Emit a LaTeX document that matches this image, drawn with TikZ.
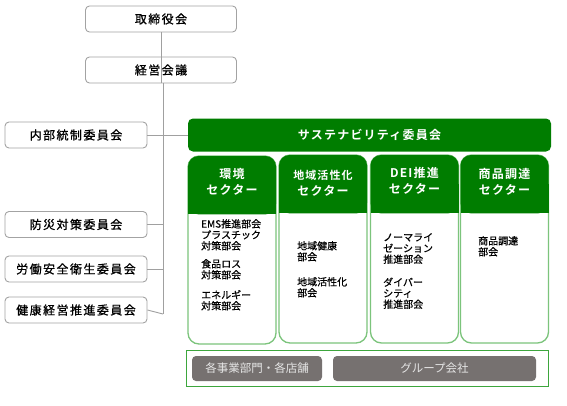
\documentclass[tikz,border=0pt]{standalone}
\usepackage{fontspec}
\setmainfont{Noto Sans CJK JP}[FakeBold=0.6]
\newfontfamily\jpbold{Noto Sans CJK JP Bold}
\newfontfamily\jpwide{Noto Sans CJK JP}[FakeBold=0.8, LetterSpace=12]
\newfontfamily\jpboldwide{Noto Sans CJK JP Bold}[LetterSpace=10]
\newfontfamily\jpbtn{Noto Sans CJK JP}
\definecolor{hdrgreen}{HTML}{007D00}
\definecolor{litegreen}{HTML}{7CC47C}
\definecolor{boxgreen}{HTML}{3DA63D}
\definecolor{btngray}{HTML}{767170}
\definecolor{btntext}{HTML}{E6E6E6}
\definecolor{edgegray}{HTML}{A3A3A3}
\definecolor{linegray}{HTML}{A0A0A0}
\begin{document}
\begin{tikzpicture}[x=1pt,y=-1pt,
  orgbox/.style={draw=edgegray, line width=0.9pt, rounded corners=4pt, fill=white,
    minimum width=151pt, minimum height=26pt, inner sep=0pt,
    font=\fontsize{12}{14}\selectfont\jpwide},
  sidebox/.style={orgbox, minimum width=142pt},
  conn/.style={draw=linegray, line width=0.9pt},
  sector/.style={draw=litegreen, line width=1.3pt, rounded corners=11pt, minimum width=88pt,
    minimum height=188pt, inner sep=0pt},
  hdrtext/.style={text=white, align=center, font=\fontsize{12}{15.5}\selectfont\jpboldwide},
  bodytext/.style={anchor=north west, align=left, inner sep=0pt,
    font=\fontsize{10}{11}\selectfont},
  btn/.style={fill=btngray, rounded corners=4pt, minimum height=25pt, inner sep=0pt,
    text=btntext, font=\fontsize{11.5}{13}\selectfont\jpbtn}
]
\useasboundingbox (0,0) rectangle (567,405);
\fill[white] (0,0) rectangle (567,405);

% main chain
\node[orgbox] (tori) at (161,19) {取締役会};
\node[orgbox] (keiei) at (161,70) {経営会議};
\coordinate (spineend) at (163,314);

% side committees
\node[sidebox] (naibu) at (76,135) {内部統制委員会};
\node[sidebox] (bousai) at (76,224.5) {防災対策委員会};
\node[sidebox] (roudou) at (76,269) {労働安全衛生委員会};
\node[sidebox] (kenkou) at (76,310) {健康経営推進委員会};

% sustainability committee
\node[fill=hdrgreen, rounded corners=5pt, minimum width=363pt, minimum height=33pt, inner sep=0pt,
  text=white, font=\fontsize{12}{14}\selectfont\jpboldwide] (sust) at (369.5,135) {サステナビリティ委員会};

% connectors
\draw[conn] (tori.south) -- (keiei.south -| tori.south);
\draw[conn] (keiei.south -| spineend) -- (spineend);
\draw[conn] (naibu.east) -- (sust.west);
\draw[conn] (bousai.east) -- (bousai.east -| spineend);
\draw[conn] (roudou.east) -- (roudou.east -| spineend);
\draw[conn] (kenkou.east) -- (spineend);

% sectors
\node[sector] (s1) at (232,250) {};
\node[sector] (s2) at (323,249) {};
\node[sector] (s3) at (414.5,249) {};
\node[sector] (s4) at (504.5,249) {};
\foreach \s in {s1,s2,s3,s4}{
  \fill[hdrgreen, rounded corners=10.5pt] ([xshift=0.65pt,yshift=-0.65pt]\s.north west) rectangle ([xshift=-0.65pt,yshift=-59pt]\s.north east);
  \fill[hdrgreen] ([xshift=0.65pt,yshift=-30pt]\s.north west) rectangle ([xshift=-0.65pt,yshift=-59pt]\s.north east);
}
\node[hdrtext] (h1) at (232,182) {環境\\セクター};
\node[hdrtext] (h2) at (323,183) {\fontsize{11}{15.5}\selectfont 地域活性化\\\fontsize{12}{15.5}\selectfont セクター};
\node[hdrtext] (h3) at (414.5,181) {DEI推進\\セクター};
\node[hdrtext] (h4) at (504.5,182) {商品調達\\セクター};

% sector contents
\node[bodytext] (b1) at (201,219) {EMS推進部会\\プラスチック\\対策部会\\[7pt]食品ロス\\対策部会\\[9pt]エネルギー\\対策部会};
\node[bodytext] (b2) at (297,241) {地域健康\\部会\\[14pt]地域活性化\\部会};
\node[bodytext] (b3) at (383,233) {ノーマライ\\ゼーション\\推進部会\\[12pt]ダイバー\\シティ\\推進部会};
\node[bodytext] (b4) at (478,236) {商品調達\\部会};

% bottom group
\node[draw=boxgreen, line width=1pt, minimum width=362pt, minimum height=36pt, inner sep=0pt] (grp) at (367,368) {};
\node[btn, minimum width=130pt] (bu) at (257,368.5) {各事業部門・各店舗};
\node[btn, minimum width=203pt] (gc) at (434.5,368.5) {グループ会社};
\end{tikzpicture}
\end{document}
